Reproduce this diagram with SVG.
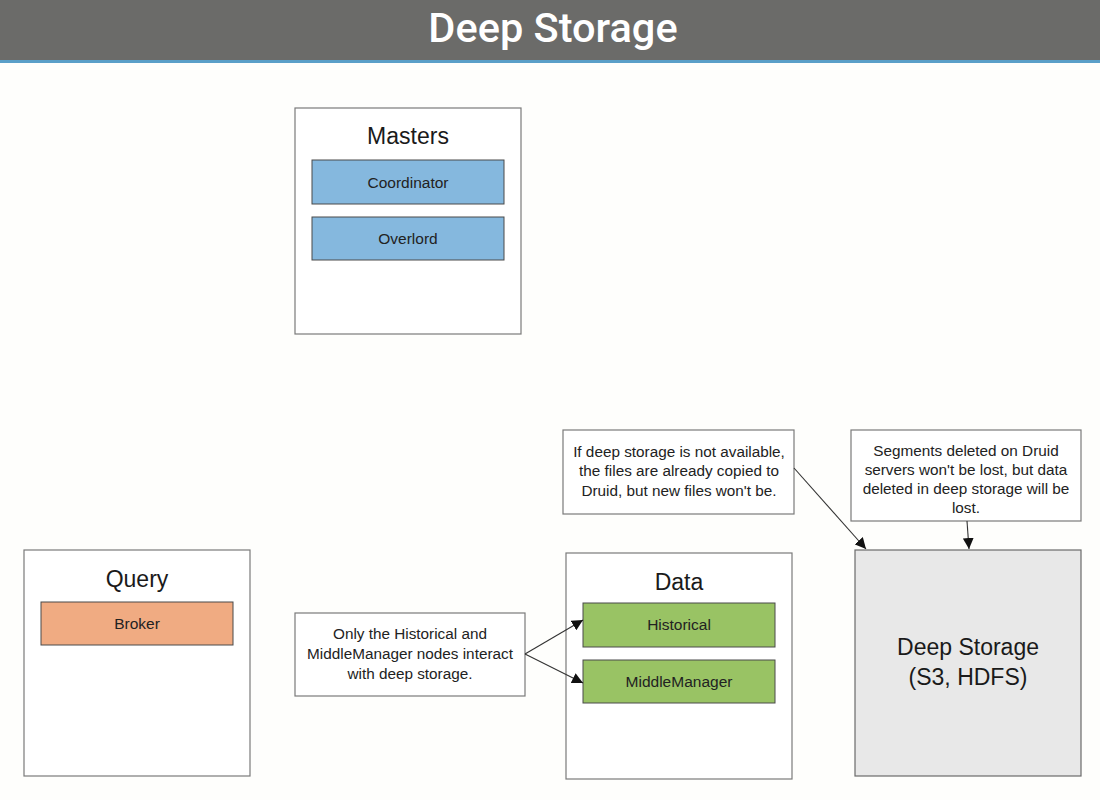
<svg xmlns="http://www.w3.org/2000/svg" width="1100" height="800" viewBox="0 0 1100 800">
<style>
.box{fill:#ffffff;stroke:#7a7a7a;stroke-width:1.2}
.title{font-family:"Liberation Sans",Arial,sans-serif;font-size:23px;fill:#1a1a1a;text-anchor:middle}
.lbl{font-family:"Liberation Sans",Arial,sans-serif;font-size:15.5px;fill:#222;text-anchor:middle}
.note{font-family:"Liberation Sans",Arial,sans-serif;font-size:15.3px;fill:#222;text-anchor:middle}
.comp{stroke:#4a4a4a;stroke-width:1}
.conn{stroke:#333;stroke-width:1.1;fill:none;marker-end:url(#arr)}
</style>
<defs>
<marker id="arr" viewBox="0 0 10 10" refX="10" refY="5" markerWidth="11" markerHeight="11" markerUnits="userSpaceOnUse" orient="auto">
<path d="M0,0 L10,5 L0,10 z" fill="#111"/>
</marker>
</defs>
<rect x="0" y="0" width="1100" height="800" fill="#fefefc"/>
<g id="header">
<rect x="0" y="0" width="1100" height="60" fill="#6b6b69"/>
<rect x="0" y="60" width="1100" height="3" fill="#5a9fc8"/>
<text x="553" y="42" font-family="Roboto,'Liberation Sans',sans-serif" font-size="41.5" font-weight="500" fill="#ffffff" text-anchor="middle">Deep Storage</text>
</g>
<g id="masters">
<rect class="box" x="295" y="108" width="226" height="226"/>
<text class="title" x="408" y="144">Masters</text>
<rect class="comp" x="312" y="160" width="192" height="44" fill="#85b8de"/>
<text class="lbl" x="408" y="188">Coordinator</text>
<rect class="comp" x="312" y="217" width="192" height="43" fill="#85b8de"/>
<text class="lbl" x="408" y="244">Overlord</text>
</g>
<g id="query">
<rect class="box" x="24" y="550" width="226" height="226"/>
<text class="title" x="137" y="587">Query</text>
<rect class="comp" x="41" y="602" width="192" height="43" fill="#f0ab82"/>
<text class="lbl" x="137" y="629">Broker</text>
</g>
<g id="data">
<rect class="box" x="566" y="553" width="226" height="226"/>
<text class="title" x="679" y="590">Data</text>
<rect class="comp" x="583" y="603" width="192" height="44" fill="#99c364"/>
<text class="lbl" x="679" y="630">Historical</text>
<rect class="comp" x="583" y="660" width="192" height="43" fill="#99c364"/>
<text class="lbl" x="679" y="687">MiddleManager</text>
</g>
<g id="deepstorage">
<rect x="855" y="550" width="226" height="226" fill="#e8e8e8" stroke="#6a6a6a" stroke-width="1.2"/>
<text class="title" x="968" y="655">Deep Storage</text>
<text class="title" x="968" y="685">(S3, HDFS)</text>
</g>
<g id="note-interact">
<rect class="box" x="295" y="613" width="230" height="83"/>
<text class="note" x="410" y="639">Only the Historical and</text>
<text class="note" x="410" y="659">MiddleManager nodes interact</text>
<text class="note" x="410" y="679">with deep storage.</text>
</g>
<g id="note-unavailable">
<rect class="box" x="563" y="430" width="231" height="84"/>
<text class="note" x="679" y="457">If deep storage is not available,</text>
<text class="note" x="679" y="476">the files are already copied to</text>
<text class="note" x="679" y="496">Druid, but new files won't be.</text>
</g>
<g id="note-deleted">
<rect class="box" x="851" y="430" width="230" height="91"/>
<text class="note" x="966" y="456">Segments deleted on Druid</text>
<text class="note" x="966" y="475">servers won't be lost, but data</text>
<text class="note" x="966" y="494">deleted in deep storage will be</text>
<text class="note" x="966" y="513">lost.</text>
</g>
<g id="connectors">
<line class="conn" x1="525" y1="654" x2="583" y2="620"/>
<line class="conn" x1="525" y1="654" x2="583" y2="683"/>
<line class="conn" x1="794" y1="468" x2="866" y2="549"/>
<line class="conn" x1="967" y1="521" x2="969" y2="549"/>
</g>
</svg>
